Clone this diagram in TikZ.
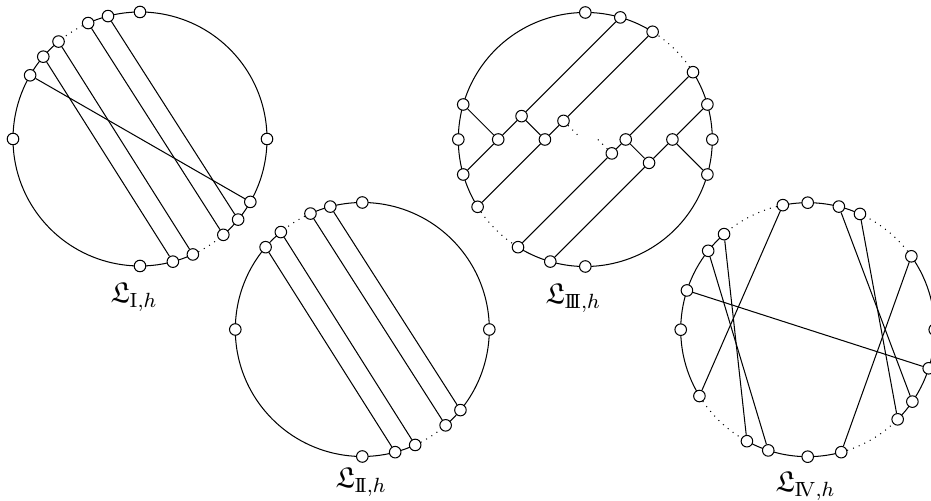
\documentclass[tikz,border=0pt]{standalone}
\usepackage{amssymb}
\begin{document}
\begin{tikzpicture}[x=0.389pt,y=0.389pt,
  v/.style={circle,draw,fill=white,inner sep=0pt,minimum size=4.5pt,line width=0.4pt},
  rim/.style={line width=0.4pt},
  gap/.style={line width=0.4pt,dotted},
  chord/.style={line width=0.4pt},
  lab/.style={anchor=base west,inner sep=0pt,font=\fontsize{11.2}{13}\selectfont}]
\useasboundingbox (0,0) rectangle (931,501);

% ---------- Circle I ----------
\begin{scope}[shift={(140,362)}]
\draw[rim] (129.9:127) arc[start angle=129.9,end angle=294.6,radius=127];
\draw[gap] (294.6:127) arc[start angle=294.6,end angle=311,radius=127];
\draw[rim] (311:127) arc[start angle=311,end angle=474.1,radius=127];
\draw[gap] (114.1:127) arc[start angle=114.1,end angle=129.9,radius=127];
\foreach \a/\n in {90/t,104.6/p1,114.1/p2,129.9/p3,139.6/p4,149.9/p5,180/l,-90/b,-75/q4,-65.4/q3,-49/q2,-39.4/q1,-29.7/q5,0/r}
  \node[v] (I\n) at (\a:127) {};
\end{scope}
\draw[chord] (Ip1) -- (Iq1);
\draw[chord] (Ip2) -- (Iq2);
\draw[chord] (Ip3) -- (Iq3);
\draw[chord] (Ip4) -- (Iq4);
\draw[chord] (Ip5) -- (Iq5);
\node[lab] (LI) at (110,198) {$\mathfrak{L}_{\mathrm{I},h}$};

% ---------- Circle II ----------
\begin{scope}[shift={(362.3,171.5)}]
\draw[rim] (129.9:127) arc[start angle=129.9,end angle=294.6,radius=127];
\draw[gap] (294.6:127) arc[start angle=294.6,end angle=311,radius=127];
\draw[rim] (311:127) arc[start angle=311,end angle=474.1,radius=127];
\draw[gap] (114.1:127) arc[start angle=114.1,end angle=129.9,radius=127];
\foreach \a/\n in {90/t,104.6/p1,114.1/p2,129.9/p3,139.6/p4,180/l,-90/b,-75/q4,-65.4/q3,-49/q2,-39.4/q1,0/r}
  \node[v] (II\n) at (\a:127) {};
\end{scope}
\draw[chord] (IIp1) -- (IIq1);
\draw[chord] (IIp2) -- (IIq2);
\draw[chord] (IIp3) -- (IIq3);
\draw[chord] (IIp4) -- (IIq4);
\node[lab] (LII) at (335,13) {$\mathfrak{L}_{\mathrm{I\!I},h}$};

% ---------- Circle III ----------
\begin{scope}[shift={(585.3,361.5)}]
\draw[rim] (58:127) arc[start angle=58,end angle=212,radius=127];
\draw[gap] (212:127) arc[start angle=212,end angle=238,radius=127];
\draw[rim] (238:127) arc[start angle=238,end angle=392,radius=127];
\draw[gap] (32:127) arc[start angle=32,end angle=58,radius=127];
\foreach \a/\n in {90/t,74/a1,58/b1,32/c1,16/d1,0/r,-16/e,-90/b,-106/d0,-122/c0,-148/b0,-164/a0,180/l,164/f}
  \node[v] (III\n) at (\a:127) {};
\node[v] (IIIx1) at (-87.1,0) {};
\node[v] (IIIx2) at (-63.75,23.35) {};
\node[v] (IIIx3) at (-40.4,0) {};
\node[v] (IIIx4) at (-21.8,18.6) {};
\node[v] (IIIx5) at (26.5,-13.9) {};
\node[v] (IIIx6) at (40.4,0) {};
\node[v] (IIIx7) at (63.75,-23.35) {};
\node[v] (IIIx8) at (87.1,0) {};
\coordinate (IIIs4) at (-4.8,1.6);
\coordinate (IIIs5) at (9.5,3.1);
\end{scope}
\draw[chord] (IIIa0) -- (IIIx1) -- (IIIx2) -- (IIIa1);
\draw[chord] (IIIf) -- (IIIx1);
\draw[chord] (IIIx2) -- (IIIx3);
\draw[chord] (IIIb0) -- (IIIx3) -- (IIIx4) -- (IIIb1);
\draw[chord] (IIIc0) -- (IIIx5) -- (IIIx6) -- (IIIc1);
\draw[chord] (IIIx6) -- (IIIx7);
\draw[chord] (IIId0) -- (IIIx7) -- (IIIx8) -- (IIId1);
\draw[chord] (IIIx8) -- (IIIe);
\draw[gap] (IIIx4) -- (IIIs4);
\draw[gap] (IIIx5) -- (IIIs5);
\node[lab] (LIII) at (545,197) {$\mathfrak{L}_{\mathrm{I\!I\!I},h}$};

% ---------- Circle IV ----------
\begin{scope}[shift={(807.7,171.3)}]
\draw[gap] (101.3:127) arc[start angle=101.3,end angle=131.2,radius=127];
\draw[rim] (131.2:127) arc[start angle=131.2,end angle=211.5,radius=127];
\draw[gap] (211.5:127) arc[start angle=211.5,end angle=241.4,radius=127];
\draw[rim] (241.4:127) arc[start angle=241.4,end angle=285.3,radius=127];
\draw[gap] (285.3:127) arc[start angle=285.3,end angle=315.1,radius=127];
\draw[rim] (315.1:127) arc[start angle=315.1,end angle=395.3,radius=127];
\draw[gap] (35.3:127) arc[start angle=35.3,end angle=65.7,radius=127];
\draw[rim] (65.7:127) arc[start angle=65.7,end angle=101.3,radius=127];
\foreach \a/\n in {90/t,101.3/a,131.2/b,141.6/c,162/d,180/l,-148.5/e,-118.6/f,-108.1/g,-90/bo,-74.7/h,-44.9/i,-34.5/j,-17.7/k,0/r,35.3/m,65.7/n,75.8/o}
  \node[v] (IV\n) at (\a:127) {};
\end{scope}
\draw[chord] (IVa) -- (IVe);
\draw[chord] (IVb) -- (IVf);
\draw[chord] (IVc) -- (IVg);
\draw[chord] (IVd) -- (IVk);
\draw[chord] (IVh) -- (IVm);
\draw[chord] (IVo) -- (IVj);
\draw[chord] (IVn) -- (IVi);
\node[lab] (LIV) at (775,9) {$\mathfrak{L}_{\mathrm{I\!V},h}$};
\end{tikzpicture}
\end{document}
